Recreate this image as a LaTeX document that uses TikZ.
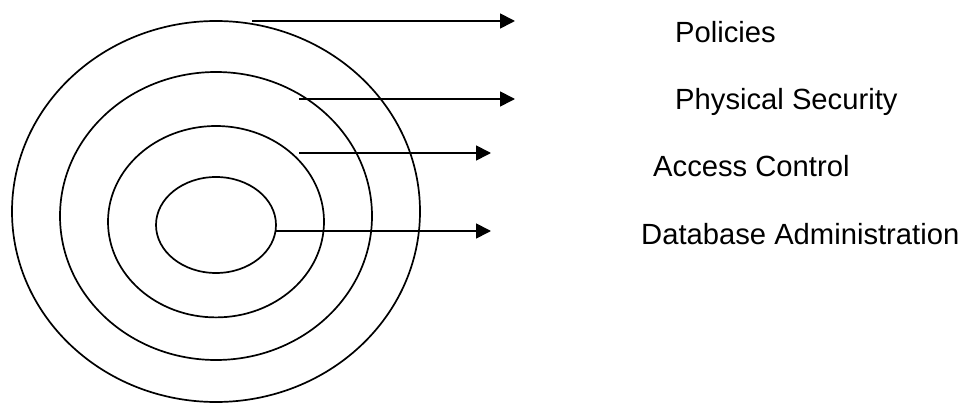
\documentclass[tikz,border=0pt]{standalone}
\usepackage{fontspec}
\setmainfont{Liberation Sans}
\usetikzlibrary{arrows.meta}
\begin{document}
\begin{tikzpicture}[x=1pt,y=-1pt,
  ring/.style={draw=black,line width=1.7pt},
  arr/.style={draw=black,line width=1.7pt,-{Triangle[length=15pt,width=15pt]}},
  lbl/.style={anchor=base west,inner sep=0pt,font=\fontsize{29.2}{34}\selectfont}]
\useasboundingbox (0,0) rectangle (969,403);
% rings
\draw[ring] (216,211.5) ellipse [x radius=204, y radius=190.5];
\draw[ring] (216,216) ellipse [x radius=156, y radius=144];
\draw[ring] (216,221.7) ellipse [x radius=108, y radius=95.7];
\draw[ring] (216,225) ellipse [x radius=60, y radius=48];
% arrow end points
\coordinate (s1) at (252,21);  \coordinate (e1) at (515,21);
\coordinate (s2) at (299,99);  \coordinate (e2) at (515,99);
\coordinate (s3) at (299,153); \coordinate (e3) at (491,153);
\coordinate (s4) at (276,231); \coordinate (e4) at (491,231);
\draw[arr] (s1) -- (e1);
\draw[arr] (s2) -- (e2);
\draw[arr] (s3) -- (e3);
\draw[arr] (s4) -- (e4);
% labels
\node[lbl] (l1) at (675,42.3) {Policies};
\node[lbl] (l2) at (675,110) {Physical Security};
\node[lbl] (l3) at (653,177) {Access Control};
\node[lbl] (l4) at (641,245) {Database Administration};
\end{tikzpicture}
\end{document}
